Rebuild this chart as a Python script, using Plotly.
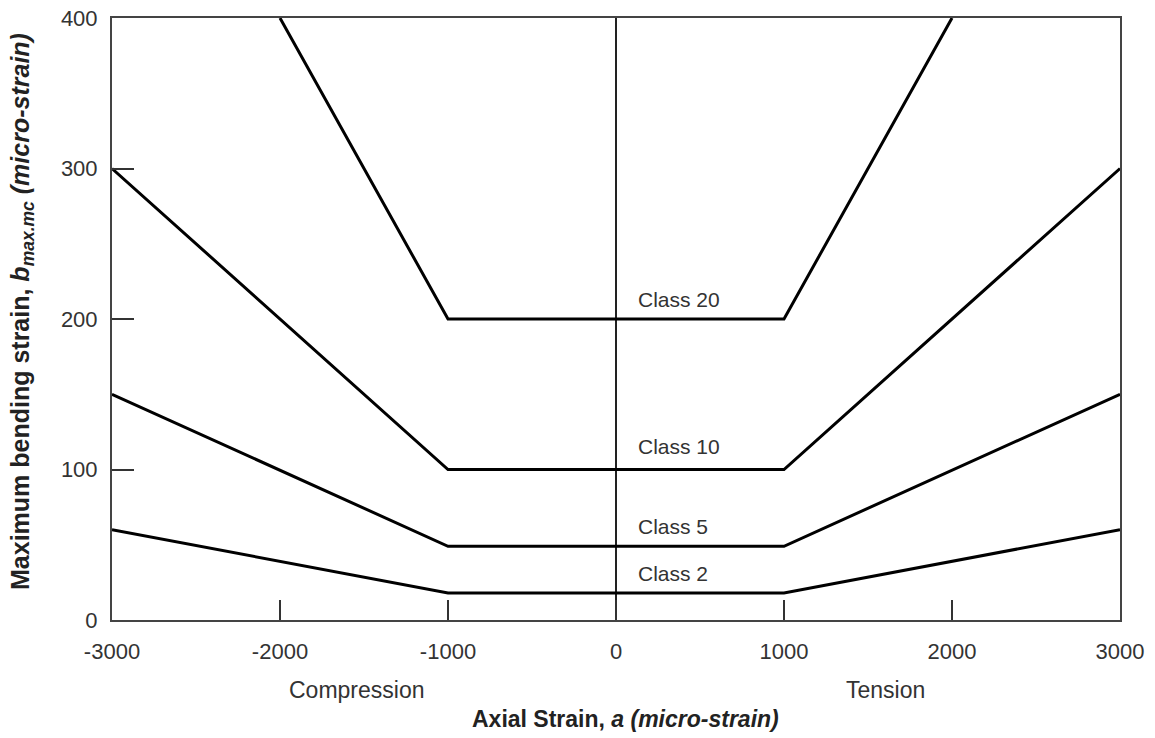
import plotly.graph_objects as go

# ---- data ----
strain_points = [-3000, -1000, 1000, 3000]
class2 = [60, 18, 18, 60]
class5 = [150, 49, 49, 150]
class10 = [300, 100, 100, 300]
class20_x = [-2000, -1000, 1000, 2000]
class20 = [400, 200, 200, 400]

x_tickvals = [-3000, -2000, -1000, 0, 1000, 2000, 3000]
x_ticktext = ["-3000", "-2000", "-1000", "0", "1000", "2000", "3000"]
y_tickvals = [0, 100, 200, 300, 400]
y_ticktext = ["0", "100", "200", "300", "400"]

labels = ["Class 20", "Class 10", "Class 5", "Class 2"]
label_y = [213, 115, 62, 31]

FONT = "Liberation Sans, Arial, Helvetica, sans-serif"
OFF = 8  # default page body margin
W, H = 1155 - OFF, 738 - OFF
PL, PR, PT, PB = 112, 1120, 18, 620  # plot area in page pixels
L, R, T, B = PL - OFF, 1155 - PR, PT - OFF, 738 - PB

fig = go.Figure()
line_style = dict(color="black", width=3)
for xs, ys, name in [(strain_points, class2, "Class 2"),
                     (strain_points, class5, "Class 5"),
                     (strain_points, class10, "Class 10"),
                     (class20_x, class20, "Class 20")]:
    fig.add_trace(go.Scatter(x=xs, y=ys, mode="lines", line=line_style,
                             name=name, showlegend=False))

for txt, yv in zip(labels, label_y):
    fig.add_annotation(x=120, y=yv, text=txt, showarrow=False, xanchor="left",
                       yanchor="middle", font=dict(family=FONT, size=21, color="#333"))


def px_to_paper_x(px):
    return (px - PL) / (PR - PL)


def px_to_paper_y(py):
    return (PB - py) / (PB - PT)


common = dict(xref="paper", yref="paper", showarrow=False, xanchor="center", yanchor="middle")
fig.add_annotation(x=px_to_paper_x(357), y=px_to_paper_y(690), text="Compression",
                   font=dict(family=FONT, size=23, color="#333"), **common)
fig.add_annotation(x=px_to_paper_x(885), y=px_to_paper_y(690), text="Tension",
                   font=dict(family=FONT, size=23, color="#333"), **common)
fig.add_annotation(x=px_to_paper_x(625), y=px_to_paper_y(719),
                   text="<b>Axial Strain, <i>a (micro-strain)</i></b>",
                   font=dict(family=FONT, size=23, color="#222"), **common)
fig.add_annotation(x=px_to_paper_x(22), y=px_to_paper_y(312),
                   text="<b>Maximum bending strain, <i>b<sub>max.mc</sub> (micro-strain)</i></b>",
                   textangle=-90, font=dict(family=FONT, size=25, color="#222"), **common)

fig.update_layout(
    width=W, height=H,
    margin=dict(l=L, r=R, t=T, b=B, autoexpand=False),
    paper_bgcolor="white", plot_bgcolor="white",
    font=dict(family=FONT, size=20, color="#333"),
    showlegend=False,
)

fig.update_xaxes(range=[-3000, 3000], tickvals=x_tickvals, ticktext=x_ticktext,
                 ticks="inside", ticklen=20, tickwidth=1.5, tickcolor="#333",
                 showline=True, mirror=True, linecolor="#444", linewidth=2,
                 showgrid=False, zeroline=True, zerolinecolor="#222", zerolinewidth=1.5,
                 automargin=False, ticklabeloverflow="allow",
                 ticklabelstandoff=11, tickfont=dict(family=FONT, size=22, color="#333"))
fig.update_yaxes(range=[0, 400], tickvals=y_tickvals, ticktext=y_ticktext,
                 ticks="inside", ticklen=22, tickwidth=1.5, tickcolor="#333",
                 showline=True, mirror=True, linecolor="#444", linewidth=2,
                 showgrid=False, zeroline=False, automargin=False, ticklabeloverflow="allow",
                 ticklabelstandoff=8, tickfont=dict(family=FONT, size=22, color="#333"))

fig.write_html("out.html")
